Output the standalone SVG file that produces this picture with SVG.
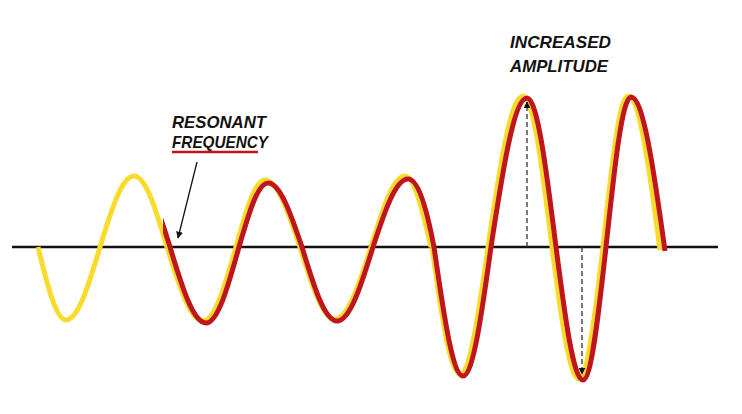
<svg xmlns="http://www.w3.org/2000/svg" width="742" height="414" viewBox="0 0 742 414">
  <style>
    .lbl { font-family: "Liberation Sans", Arial, sans-serif; font-weight: bold; font-style: italic; font-size: 17px; fill: #111; }
    .yellow { fill: none; stroke: #FADB2C; stroke-width: 5; stroke-linecap: butt; stroke-linejoin: round; }
    .red { fill: none; stroke: #BE161C; stroke-width: 5; stroke-linecap: butt; stroke-linejoin: round; }
    .dash { fill: none; stroke: #333; stroke-width: 1.3; stroke-dasharray: 5 3; }
    .pointer { fill: none; stroke: #111; stroke-width: 1.3; }
  </style>
  <defs>
    <marker id="tip" viewBox="0 0 10 10" refX="9" refY="5" markerWidth="7" markerHeight="7" markerUnits="userSpaceOnUse" orient="auto">
      <path d="M0,0 L10,5 L0,10 Z" fill="#111"/>
    </marker>
    <clipPath id="redclip"><rect x="163" y="0" width="600" height="414"/></clipPath>
  </defs>
  <rect width="742" height="414" fill="#fff"/>

  <g id="axis">
    <line x1="12" y1="247" x2="718" y2="247" stroke="#111" stroke-width="2.5"/>
  </g>

  <g id="yellow-wave">
    <path class="yellow" d="M38,247 C47.1,284.4 55.9,320 66,320 C78.2,320 88.9,284.4 100,247 C111.1,210.6 121.8,176 134,176 C145.9,176 156.2,210.6 167,247 C178.7,284.9 190,321 203,321 C214.9,321 225.2,284.9 236,247 C245.5,212.7 254.6,180 265,180 C277.6,180 288.6,212.7 300,247 C311.4,283.9 322.4,319 335,319 C348,319 359.3,283.9 371,247 C382.1,210.6 392.8,176 405,176 C414.4,176 422.5,210.6 431,247"/>
    <path class="yellow" d="M432,247 C441.1,312 449.9,374 460,374 C470.1,374 478.9,312 488,247 C499.4,169.7 510.4,96 523,96 C533.4,96 542.5,169.7 552,247 C560.8,314.6 569.3,379 579,379 C587.6,379 595.2,314.6 603,247 C611.2,169.7 619,96 628,96 C639.5,96 649.6,170 660,250"/>
  </g>

  <g id="red-wave">
    <path class="red" clip-path="url(#redclip)" d="M137,178 C148.9,178 159.2,212.6 170,247 C181.7,285.9 193,323 206,323 C217.9,323 228.2,285.9 239,247 C248.5,214.2 257.6,183 268,183 C280.2,183 290.9,214.2 302,247 C313.4,284.9 324.4,321 337,321 C350,321 361.3,284.9 373,247 C384.4,212.2 395.4,179 408,179 C417.4,179 426,205 434,247 C443.5,313 452.6,376 463,376 C473.1,376 481.9,313 491,247 C502.7,170.7 514,98 527,98 C537.4,98 546.5,170.7 556,247 C564.8,315.1 573.3,380 583,380 C591.3,380 598.5,315.1 606,247 C614.2,170.2 622,97 631,97 C643.2,97 653.9,170 665,251"/>
  </g>

  <g id="connectors">
    <line class="dash" x1="527" y1="247" x2="527" y2="102" marker-end="url(#tip)"/>
    <line class="dash" x1="582" y1="247" x2="582" y2="374" marker-end="url(#tip)"/>
    <line class="pointer" x1="197" y1="162" x2="178" y2="238" marker-end="url(#tip)"/>
  </g>

  <g id="label-resonant">
    <text class="lbl" x="172" y="128" textLength="94" lengthAdjust="spacingAndGlyphs">RESONANT</text>
    <text class="lbl" x="172" y="148" textLength="96" lengthAdjust="spacingAndGlyphs">FREQUENCY</text>
    <line x1="172" y1="152" x2="258" y2="152" stroke="#BE161C" stroke-width="2.5"/>
  </g>

  <g id="label-amplitude">
    <text class="lbl" x="510" y="48" textLength="101" lengthAdjust="spacingAndGlyphs">INCREASED</text>
    <text class="lbl" x="510" y="72" textLength="98" lengthAdjust="spacingAndGlyphs">AMPLITUDE</text>
  </g>
</svg>
